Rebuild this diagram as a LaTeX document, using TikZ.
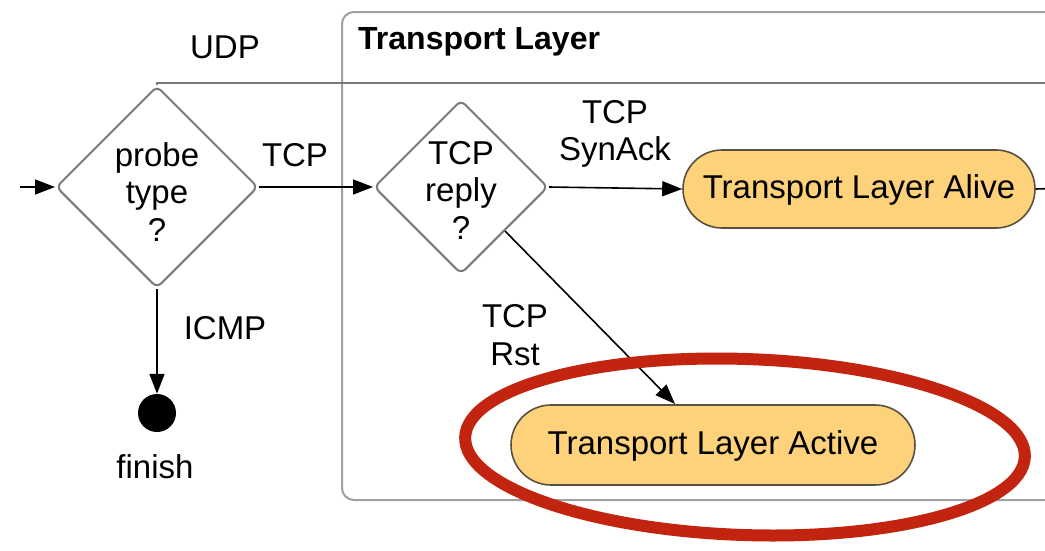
\documentclass[tikz,border=0pt]{standalone}
\usepackage{fontspec}
\setmainfont{Liberation Sans}
\usetikzlibrary{shapes.geometric,shapes.misc,arrows.meta}
\definecolor{pill}{HTML}{FDD27A}
\definecolor{pillborder}{HTML}{5A5040}
\definecolor{grayline}{HTML}{7A7A7A}
\definecolor{boxline}{HTML}{A0A0A0}
\definecolor{redmark}{HTML}{C22410}
\tikzset{
  txt/.style={font=\fontsize{33}{37.5}\selectfont, inner sep=0pt, align=center},
  decision/.style={diamond, draw=grayline, line width=2pt, rounded corners=6pt, inner sep=0pt, aspect=1},
  statebox/.style={rounded rectangle, draw=pillborder, line width=1.6pt, fill=pill, inner sep=0pt},
  flow/.style={line width=1.6pt, -{Triangle[length=20pt,width=15pt]}},
}
\begin{document}
\begin{tikzpicture}[x=1pt,y=-1pt]
\useasboundingbox (0,0) rectangle (1045,550);
\fill[white] (0,0) rectangle (1045,550);
% container
\draw[boxline, line width=2pt, rounded corners=12pt] (342,12) rectangle (1100,500);
\draw[grayline, line width=2pt] (342,83) -- (1100,83);
\node[txt, font=\fontsize{32}{37}\selectfont\bfseries, anchor=west] (title) at (358,42) {Transport Layer};
% probe diamond
\node[decision, minimum width=202pt, minimum height=202pt] (probe) at (157,187) {};
\node[txt] (probetxt) at (157,192) {probe\\type\\?};
% tcp reply diamond
\node[decision, minimum width=174pt, minimum height=174pt] (reply) at (461,187) {};
\node[txt] (replytxt) at (461,190) {TCP\\reply\\?};
% states
\node[statebox, minimum width=352pt, minimum height=78pt] (alive) at (859,189) {};
\node[txt] (alivetxt) at (859,190) {Transport Layer Alive};
\node[statebox, minimum width=404pt, minimum height=80pt] (active) at (713,445) {};
\node[txt] (activetxt) at (713,446) {Transport Layer Active};
% finish
\node[circle, fill=black, minimum size=38pt, inner sep=0pt] (finish) at (157,413) {};
\node[txt] (finishtxt) at (155,467) {finish};
% entry
\coordinate (entry) at (20,187);
\coordinate (udpcorner) at (157,83);
\coordinate (udpend) at (342,83);
\coordinate (aliveout) at (1100,187);
\coordinate (rstend) at (675,404);
\draw[flow] (entry) -- (probe.west);
\draw[grayline, line width=2pt] (probe.north) -- (udpcorner) -- (udpend);
\draw[flow] (probe.east) -- (reply.west);
\draw[flow] (probe.south) -- (finish.north);
\draw[flow] (reply.east) -- (alive.west);
\draw[flow] (reply.south east) -- (rstend);
\draw[line width=1.6pt] (alive.east) -- (aliveout);
% labels
\node[txt] (udplbl) at (225,47) {UDP};
\node[txt] (tcplbl) at (295,155) {TCP};
\node[txt] (icmplbl) at (225,328) {ICMP};
\node[txt] (synlbl) at (615,134) {TCP\\SynAck};
\node[txt] (rstlbl) at (515,335) {TCP\\Rst};
% highlight
\draw[redmark, line width=12pt, rotate around={-2:(745,447)}] (745,447) ellipse [x radius=280pt, y radius=88pt];
\end{tikzpicture}
\end{document}
